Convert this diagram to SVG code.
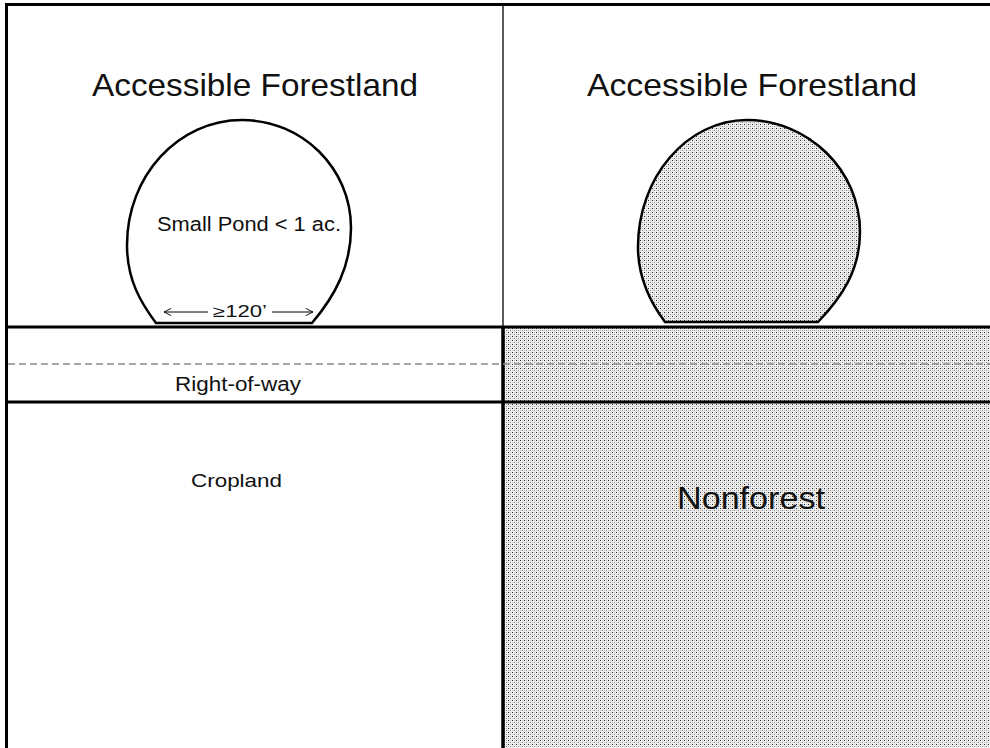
<svg xmlns="http://www.w3.org/2000/svg" width="990" height="748" viewBox="0 0 990 748">
<defs>
<pattern id="dots" width="4" height="4" patternUnits="userSpaceOnUse">
<rect width="4" height="4" fill="#efefef"/>
<rect x="0" y="0" width="1" height="1" fill="#2a2a2a"/>
<rect x="2" y="2" width="1" height="1" fill="#8a8a8a"/>
<rect x="2" y="0" width="1" height="1" fill="#c4c4c4"/>
<rect x="0" y="2" width="1" height="1" fill="#c4c4c4"/>
</pattern>
<marker id="open" viewBox="0 0 10 10" refX="9" refY="5" markerWidth="9" markerHeight="9" orient="auto-start-reverse" markerUnits="userSpaceOnUse">
<path d="M1,1 L9,5 L1,9" fill="none" stroke="#000" stroke-width="1"/>
</marker>
<style>
.t{font-family:"Liberation Sans","Open Sans",sans-serif;fill:#111}
.big{font-size:32px}
.mid{font-size:20px}
.sm{font-size:16px}
.line{stroke:#000;fill:none}
.pond{stroke:#000;stroke-width:2.5}
</style>
</defs>
<rect width="990" height="748" fill="#fff"/>
<g id="nonforest-area">
<rect x="503" y="327" width="487" height="421" fill="url(#dots)"/>
</g>
<g id="grid">
<line class="line" x1="6.5" y1="4.5" x2="990" y2="4.5" stroke-width="3"/>
<line class="line" x1="6.5" y1="3" x2="6.5" y2="748" stroke-width="3"/>
<line class="line" x1="503" y1="4" x2="503" y2="327" stroke-width="1.3"/>
<line class="line" x1="503" y1="327" x2="503" y2="748" stroke-width="3.5"/>
<line x1="8" y1="364" x2="990" y2="364" stroke="#8a8a8a" stroke-width="1.5" stroke-dasharray="7,4"/>
<line class="line" x1="6" y1="327" x2="990" y2="327" stroke-width="3"/>
<line class="line" x1="6" y1="402" x2="990" y2="402" stroke-width="3"/>
</g>
<g id="pond-left">
<path class="pond" fill="#fff" d="M156,323 C141,303 127,280 127,245 C127,176 178,120 242,120 C302,120 351,168 351,228 C351,266 335,296 312,323 Z"/>
<text class="t mid" x="157" y="231" textLength="184" lengthAdjust="spacingAndGlyphs">Small Pond &lt; 1 ac.</text>
<text class="t sm" x="213" y="317" textLength="54" lengthAdjust="spacingAndGlyphs">≥120’</text>
</g>
<g id="pond-right">
<path class="pond" fill="url(#dots)" d="M665,322 C650,302 638,278 638,247 C638,177 687,120 747,120 C808,120 860,170 860,232 C860,270 842,297 818,322 Z"/>
</g>
<g id="connectors">
<line x1="208" y1="312" x2="164" y2="312" stroke="#000" stroke-width="1" marker-end="url(#open)"/>
<line x1="272" y1="312" x2="313" y2="312" stroke="#000" stroke-width="1" marker-end="url(#open)"/>
</g>
<g id="label-forest-left">
<text class="t big" x="92" y="96" textLength="326" lengthAdjust="spacingAndGlyphs">Accessible Forestland</text>
</g>
<g id="label-forest-right">
<text class="t big" x="587" y="96" textLength="330" lengthAdjust="spacingAndGlyphs">Accessible Forestland</text>
</g>
<g id="label-row">
<text class="t mid" x="175" y="391" textLength="126" lengthAdjust="spacingAndGlyphs">Right-of-way</text>
</g>
<g id="label-cropland">
<text class="t" style="font-size:19px" x="191" y="487" textLength="91" lengthAdjust="spacingAndGlyphs">Cropland</text>
</g>
<g id="label-nonforest">
<text class="t big" x="677" y="509" textLength="148" lengthAdjust="spacingAndGlyphs">Nonforest</text>
</g>
</svg>
